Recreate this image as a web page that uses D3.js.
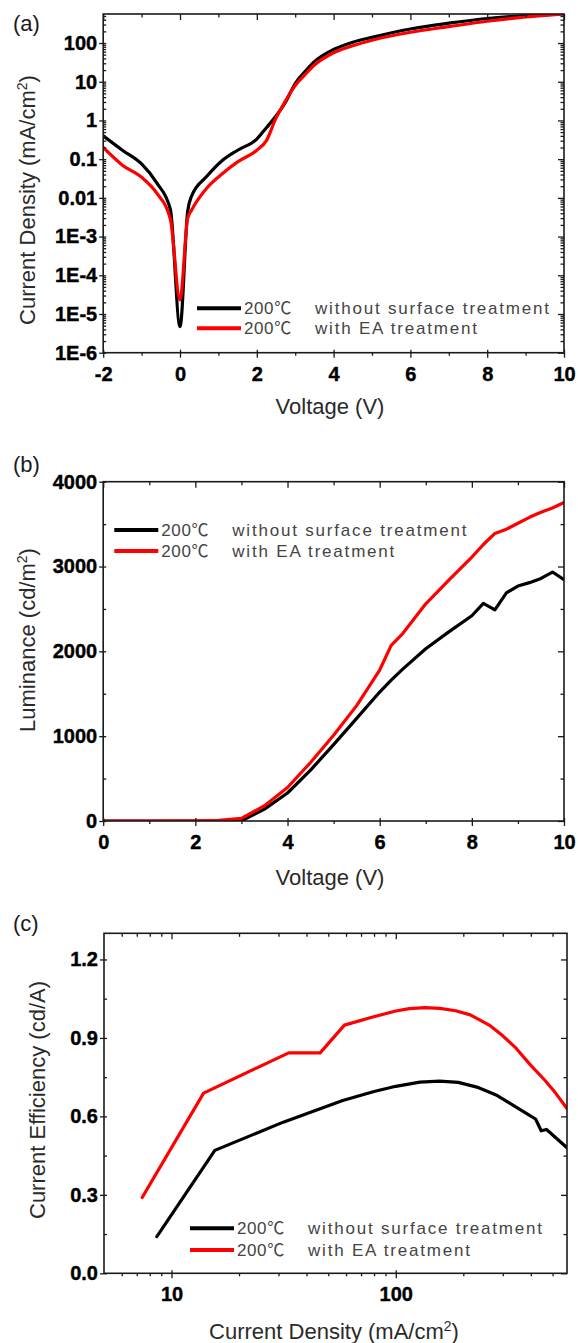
<!DOCTYPE html>
<html><head><meta charset="utf-8">
<script src="https://cdn.jsdelivr.net/npm/d3@7"></script>
<style>body{margin:0;background:#fff}</style>
</head><body>
<svg id="chart" width="578" height="1343"></svg>
<script>
// ---------------- DATA ----------------
const tempLabel = "200\u2103";
const seriesNames = ["without surface treatment", "with EA treatment"];
const seriesColors = ["#000000", "#ff0000"];

// (a) J-V
const jvVoltage = [-2, -1.5, -1, -0.6, -0.25, 0, 0.2, 0.3, 0.7, 1.1, 1.5, 2.0, 2.25, 2.5, 2.75, 3.0, 3.25, 3.5, 4.0, 4.5, 5, 6, 7, 8, 9, 10];
const jvBlack = [0.4, 0.17, 0.075, 0.024, 0.005, 4.7e-6, 0.0045, 0.011, 0.036, 0.092, 0.17, 0.33, 0.65, 1.3, 3.0, 9, 18, 33, 68, 105, 140, 230, 325, 430, 510, 565];
const jvRed   = [0.2, 0.07, 0.034, 0.013, 0.0028, 2.3e-5, 0.003, 0.0048, 0.018, 0.042, 0.085, 0.17, 0.3, 1.15, 3.2, 8, 15, 27, 56, 85, 118, 190, 265, 365, 470, 565];
const jvYTicks = [1e-6, 1e-5, 1e-4, 1e-3, 0.01, 0.1, 1, 10, 100];
const jvYTickLabels = ["1E-6", "1E-5", "1E-4", "1E-3", "0.01", "0.1", "1", "10", "100"];
const voltageTicks = [-2, 0, 2, 4, 6, 8, 10];

// (b) L-V
const lvVoltage = [0, 1, 2, 2.5, 3, 3.5, 4, 4.5, 5, 5.5, 6, 6.25, 6.5, 7, 7.5, 8, 8.25, 8.5, 8.75, 9, 9.25, 9.5, 9.75, 10];
const lvBlack = [0, 0, 0, 0, 2, 140, 330, 600, 900, 1210, 1520, 1660, 1790, 2030, 2230, 2420, 2566, 2490, 2690, 2770, 2810, 2860, 2935, 2845];
const lvRed   = [0, 0, 2, 8, 30, 180, 395, 690, 1010, 1360, 1780, 2070, 2210, 2560, 2840, 3110, 3260, 3390, 3440, 3510, 3580, 3640, 3690, 3755];
const lumTicks = [0, 1000, 2000, 3000, 4000];
const lumVoltageTicks = [0, 2, 4, 6, 8, 10];

// (c) CE-J
const ceJBlack = [8.6, 15.6, 31.5, 58, 80, 100, 128, 157, 190, 230, 280, 330, 390, 420, 445, 470, 580];
const ceBlack  = [0.14, 0.47, 0.578, 0.661, 0.695, 0.715, 0.731, 0.735, 0.73, 0.712, 0.682, 0.645, 0.607, 0.59, 0.545, 0.55, 0.48];
const ceJRed = [7.4, 13.9, 33.3, 46, 59, 79, 100, 115, 135, 157, 185, 215, 261, 300, 340, 400, 460, 515, 580];
const ceRed  = [0.29, 0.689, 0.843, 0.843, 0.949, 0.98, 1.003, 1.012, 1.016, 1.013, 1.004, 0.988, 0.949, 0.908, 0.865, 0.795, 0.74, 0.69, 0.63];
const ceYTicks = [0, 0.3, 0.6, 0.9, 1.2];
const ceXTicks = [10, 100];

// ---------------- DRAWING ----------------
const svg = d3.select("#chart");
const FONT = "'Liberation Sans', Arial, 'Noto Sans CJK KR', sans-serif";

function panelBase(p, id) {
  svg.append("clipPath").attr("id", id).append("rect")
    .attr("x", p.left).attr("y", p.top).attr("width", p.right - p.left).attr("height", p.bottom - p.top);
}
function axisGroup(axis, tx, ty) {
  const g = svg.append("g").attr("transform", `translate(${tx},${ty})`).call(axis);
  g.select(".domain").remove();
  g.selectAll("line").attr("stroke", "#1a1a1a").attr("stroke-width", 1.3);
  g.selectAll("text").style("font-family", FONT).style("font-weight", "700").style("font-size", "20px")
    .attr("fill", "#000").attr("stroke", "#000").attr("stroke-width", 0.4);
  return g;
}
function drawTicks(p, x, y, xMaj, xMin, yMaj, yMin, xFmt, yFmt) {
  axisGroup(d3.axisBottom(x).tickValues(xMaj).tickSize(5).tickPadding(9).tickFormat(xFmt), 0, p.bottom);
  axisGroup(d3.axisBottom(x).tickValues(xMaj).tickSize(-3).tickFormat(""), 0, p.bottom);
  axisGroup(d3.axisBottom(x).tickValues(xMin).tickSize(3).tickFormat(""), 0, p.bottom);
  axisGroup(d3.axisTop(x).tickValues(xMaj).tickSize(-6).tickFormat(""), 0, p.top);
  axisGroup(d3.axisTop(x).tickValues(xMin).tickSize(-3.5).tickFormat(""), 0, p.top);
  axisGroup(d3.axisLeft(y).tickValues(yMaj).tickSize(4).tickPadding(2).tickFormat(yFmt), p.left, 0);
  axisGroup(d3.axisLeft(y).tickValues(yMaj).tickSize(-3).tickFormat(""), p.left, 0);
  axisGroup(d3.axisLeft(y).tickValues(yMin).tickSize(-3).tickFormat(""), p.left, 0);
  axisGroup(d3.axisRight(y).tickValues(yMaj).tickSize(-6).tickFormat(""), p.right, 0);
  axisGroup(d3.axisRight(y).tickValues(yMin).tickSize(-3.5).tickFormat(""), p.right, 0);
  svg.append("rect").attr("x", p.left).attr("y", p.top).attr("width", p.right - p.left).attr("height", p.bottom - p.top)
    .attr("fill", "none").attr("stroke", "#1a1a1a").attr("stroke-width", 1.6);
}
function drawSeries(id, xs, ys, x, y, color, curve) {
  const pts = xs.map((v, i) => [v, ys[i]]);
  svg.append("path").attr("clip-path", `url(#${id})`)
    .attr("d", d3.line().x(d => x(d[0])).y(d => y(d[1])).curve(curve)(pts))
    .attr("fill", "none").attr("stroke", color).attr("stroke-width", 3.2)
    .attr("stroke-linejoin", "round").attr("stroke-linecap", "round");
}
function legend(x0, y0, dy) {
  seriesNames.forEach((name, i) => {
    const yy = y0 + i * dy;
    svg.append("line").attr("x1", x0).attr("x2", x0 + 44).attr("y1", yy).attr("y2", yy)
      .attr("stroke", seriesColors[i]).attr("stroke-width", 4);
    svg.append("text").attr("x", x0 + 47).attr("y", yy + 6).text(tempLabel)
      .attr("font-family", FONT).attr("font-size", 17).attr("fill", "#444").attr("letter-spacing", 0.6);
    svg.append("text").attr("x", x0 + 118).attr("y", yy + 6).text(name)
      .attr("font-family", FONT).attr("font-size", 17).attr("fill", "#444").attr("letter-spacing", 1.8);
  });
}
function title(x, y, rot) {
  const t = svg.append("text").attr("font-family", FONT).attr("font-size", 22).attr("fill", "#2a2a2a")
    .attr("text-anchor", "middle");
  if (rot) t.attr("transform", `translate(${x},${y}) rotate(-90)`); else t.attr("x", x).attr("y", y);
  return t;
}
function supTitle(t, before, after) {
  t.append("tspan").text(before);
  t.append("tspan").text("2").attr("font-size", 14).attr("dy", -8);
  t.append("tspan").text(after).attr("dy", 8);
}
function panelLabel(txt, y) {
  svg.append("text").attr("x", 13).attr("y", y).text(txt)
    .attr("font-family", FONT).attr("font-size", 22).attr("fill", "#1a1a1a");
}
function minorLog(lo, hi) {
  const out = [];
  for (let e = -8; e <= 4; e++) for (let k = 2; k <= 9; k++) { const v = k * Math.pow(10, e); if (v > lo && v < hi) out.push(v); }
  return out;
}

// ----- Panel (a)
{
  const p = {left: 103.2, right: 564, top: 14, bottom: 352.7};
  panelBase(p, "clipA");
  const x = d3.scaleLinear().domain([-2, 10]).range([p.left, p.right]);
  const y = d3.scaleLog().domain([1e-6, 562]).range([p.bottom, p.top]);
  drawSeries("clipA", jvVoltage, jvBlack, x, y, seriesColors[0], d3.curveMonotoneX);
  drawSeries("clipA", jvVoltage, jvRed, x, y, seriesColors[1], d3.curveMonotoneX);
  drawTicks(p, x, y, voltageTicks, [-1, 1, 3, 5, 7, 9], jvYTicks, minorLog(1e-6, 562),
    d => d, (d, i) => jvYTickLabels[i]);
  legend(197, 308.3, 20);
  panelLabel("(a)", 31);
  title(330, 414).text("Voltage (V)");
  supTitle(title(35, 200, true), "Current Density (mA/cm", ")");
}
// ----- Panel (b)
{
  const p = {left: 103.2, right: 564, top: 481.7, bottom: 821};
  panelBase(p, "clipB");
  const x = d3.scaleLinear().domain([0, 10]).range([p.left, p.right]);
  const y = d3.scaleLinear().domain([0, 4000]).range([p.bottom, p.top]);
  drawSeries("clipB", lvVoltage, lvBlack, x, y, seriesColors[0], d3.curveLinear);
  drawSeries("clipB", lvVoltage, lvRed, x, y, seriesColors[1], d3.curveLinear);
  drawTicks(p, x, y, lumVoltageTicks, [1, 3, 5, 7, 9], lumTicks, [500, 1500, 2500, 3500], d => d, d => d);
  legend(114.3, 530, 21);
  panelLabel("(b)", 472);
  title(330, 885).text("Voltage (V)");
  supTitle(title(35, 640, true), "Luminance (cd/m", ")");
}
// ----- Panel (c)
{
  const p = {left: 104, right: 567, top: 933.3, bottom: 1273.3};
  panelBase(p, "clipC");
  const x = d3.scaleLog().domain([5, 580]).range([p.left, p.right]);
  const y = d3.scaleLinear().domain([0, 1.3]).range([p.bottom, p.top]);
  drawSeries("clipC", ceJBlack, ceBlack, x, y, seriesColors[0], d3.curveLinear);
  drawSeries("clipC", ceJRed, ceRed, x, y, seriesColors[1], d3.curveLinear);
  drawTicks(p, x, y, ceXTicks, minorLog(5, 580).filter(v => v !== 10 && v !== 100), ceYTicks, [0.15, 0.45, 0.75, 1.05],
    d => d, d => d3.format(".1f")(d));
  legend(190, 1228.3, 21.7);
  panelLabel("(c)", 931);
  supTitle(title(334, 1339), "Current Density (mA/cm", ")");
  title(45, 1100, true).text("Current Efficiency (cd/A)");
}
</script>
</body></html>
